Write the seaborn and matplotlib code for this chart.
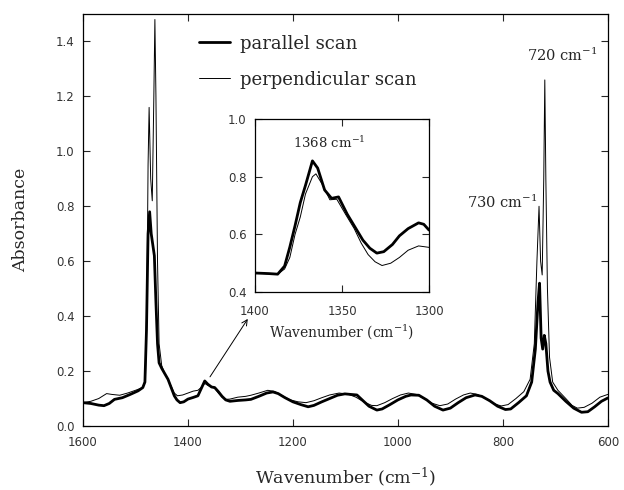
import matplotlib
matplotlib.use("Agg")
import matplotlib.pyplot as plt
import seaborn as sns
import pandas as pd

# Full-range spectra (wavenumber in cm^-1, absorbance)
wn_par = [1600, 1585, 1570, 1560, 1550, 1540, 1525, 1510, 1495, 1486, 1482, 1479,
          1476, 1473, 1470, 1467, 1464, 1461, 1458, 1455, 1450, 1444, 1438, 1432,
          1426, 1421, 1415, 1408, 1400, 1390, 1381, 1375, 1368, 1362, 1355, 1349,
          1342, 1335, 1328, 1320, 1305, 1290, 1280, 1265, 1250, 1238, 1228, 1215,
          1200, 1185, 1171, 1160, 1145, 1130, 1115, 1101, 1090, 1078, 1068, 1055,
          1040, 1030, 1015, 1000, 985, 975, 960, 945, 930, 914, 900, 885, 870, 853,
          840, 825, 810, 795, 785, 770, 755, 745, 738, 733, 730, 727, 724, 721, 718,
          714, 710, 703, 695, 680, 665, 650, 638, 625, 612, 600]
abs_par = [0.085, 0.082, 0.076, 0.074, 0.082, 0.097, 0.103, 0.115, 0.128, 0.14, 0.16, 0.35,
           0.70, 0.78, 0.70, 0.66, 0.62, 0.45, 0.30, 0.23, 0.21, 0.19, 0.17, 0.14,
           0.11, 0.095, 0.085, 0.088, 0.098, 0.104, 0.11, 0.135, 0.164, 0.152, 0.142, 0.14,
           0.125, 0.108, 0.095, 0.09, 0.093, 0.095, 0.097, 0.108, 0.12, 0.124, 0.118, 0.103,
           0.088, 0.078, 0.07, 0.075, 0.088, 0.10, 0.112, 0.117, 0.115, 0.113, 0.095, 0.072,
           0.058, 0.062, 0.078, 0.095, 0.108, 0.113, 0.112, 0.095, 0.072, 0.058, 0.065, 0.085, 0.103, 0.113,
           0.108, 0.092, 0.072, 0.06, 0.062, 0.085, 0.11, 0.16, 0.28, 0.45, 0.52, 0.32, 0.28, 0.33, 0.30,
           0.20, 0.16, 0.13, 0.118, 0.09, 0.065, 0.05, 0.052, 0.07, 0.09, 0.102]

wn_perp = [1600, 1585, 1570, 1555, 1545, 1530, 1515, 1500, 1486, 1481, 1478, 1476,
           1474, 1471, 1468, 1465, 1463, 1461, 1458, 1455, 1450, 1444, 1438, 1432,
           1426, 1420, 1410, 1400, 1390, 1381, 1375, 1368, 1362, 1355, 1349, 1342,
           1335, 1328, 1320, 1305, 1290, 1280, 1265, 1248, 1235, 1220, 1205, 1190,
           1175, 1160, 1145, 1130, 1112, 1095, 1080, 1065, 1050, 1040, 1025, 1010,
           995, 980, 965, 950, 935, 920, 905, 890, 875, 862, 848, 833, 818, 803, 790,
           775, 760, 748, 740, 735, 731, 728, 725, 722, 720, 718, 715, 711, 705, 695,
           680, 668, 658, 645, 630, 615, 600]
abs_perp = [0.085, 0.09, 0.10, 0.118, 0.115, 0.112, 0.12, 0.13, 0.14, 0.17, 0.5, 0.95,
            1.16, 0.90, 0.82, 1.20, 1.48, 1.20, 0.60, 0.30, 0.22, 0.19, 0.17, 0.145,
            0.12, 0.11, 0.113, 0.12, 0.127, 0.13, 0.14, 0.155, 0.148, 0.142, 0.137, 0.12,
            0.105, 0.097, 0.098, 0.105, 0.108, 0.112, 0.12, 0.13, 0.126, 0.11, 0.095, 0.088,
            0.085, 0.092, 0.103, 0.113, 0.12, 0.116, 0.105, 0.088, 0.075, 0.074, 0.085, 0.10,
            0.113, 0.12, 0.115, 0.10, 0.083, 0.074, 0.08, 0.098, 0.113, 0.12, 0.115, 0.10, 0.082, 0.073, 0.078,
            0.10, 0.125, 0.17, 0.30, 0.60, 0.80, 0.60, 0.55, 0.90, 1.26, 0.90, 0.50, 0.25, 0.16, 0.13,
            0.10, 0.075, 0.065, 0.068, 0.083, 0.105, 0.115]

# Expanded 1400-1300 cm^-1 region
wn_ins_par = [1400, 1392, 1387, 1383, 1380, 1377, 1374, 1371, 1367, 1364, 1360, 1356,
              1352, 1347, 1342, 1338, 1334, 1330, 1326, 1321, 1317, 1312, 1306, 1303, 1300]
abs_ins_par = [0.466, 0.464, 0.462, 0.49, 0.556, 0.63, 0.71, 0.77, 0.855, 0.83, 0.754, 0.725,
               0.73, 0.67, 0.62, 0.58, 0.552, 0.535, 0.54, 0.565, 0.595, 0.62, 0.64, 0.635, 0.615]
wn_ins_perp = [1400, 1392, 1387, 1383, 1380, 1377, 1374, 1371, 1367, 1365, 1361, 1357,
               1353, 1348, 1343, 1339, 1335, 1331, 1327, 1322, 1317, 1312, 1306, 1300]
abs_ins_perp = [0.466, 0.463, 0.462, 0.48, 0.52, 0.60, 0.66, 0.74, 0.80, 0.81, 0.77, 0.72,
                0.722, 0.67, 0.62, 0.57, 0.53, 0.505, 0.492, 0.50, 0.52, 0.545, 0.56, 0.555]

labels = ["parallel scan", "perpendicular scan"]
main_xticks = [1600, 1400, 1200, 1000, 800, 600]
main_yticks = [0.0, 0.2, 0.4, 0.6, 0.8, 1.0, 1.2, 1.4]
inset_xticks = [1400, 1350, 1300]
inset_yticks = [0.4, 0.6, 0.8, 1.0]

sns.set_style("ticks")
plt.rcParams["font.family"] = ["DejaVu Sans"]
plt.rcParams["mathtext.fontset"] = "dejavuserif"
plt.rcParams["xtick.direction"] = "in"
plt.rcParams["ytick.direction"] = "in"

SERIF = ["DejaVu Serif"]
THICK, THIN = 2.0, 0.7
TICKCOL = "#333333"

fig = plt.figure(figsize=(6.24, 4.9), dpi=100)
ax = fig.add_axes([0.133, 0.1306, 0.841, 0.8408])

df_par = pd.DataFrame({"wn": wn_par, "A": abs_par})
df_perp = pd.DataFrame({"wn": wn_perp, "A": abs_perp})
sns.lineplot(data=df_perp, x="wn", y="A", ax=ax, color="black", lw=THIN,
             estimator=None, sort=False, label=labels[1])
sns.lineplot(data=df_par, x="wn", y="A", ax=ax, color="black", lw=THICK,
             estimator=None, sort=False, label=labels[0])

ax.set_xlim(1600, 600)
ax.set_ylim(0, 1.5)
ax.set_xticks(main_xticks)
ax.set_yticks(main_yticks)
ax.set_xticklabels([str(v) for v in main_xticks])
ax.set_yticklabels([f"{v:.1f}" for v in main_yticks])
ax.tick_params(axis="both", which="major", length=5, width=0.8, labelsize=8.5,
               top=True, right=True, labelcolor=TICKCOL)
ax.tick_params(axis="x", pad=7)
ax.tick_params(axis="y", pad=6)
for s in ax.spines.values():
    s.set_linewidth(0.9)
    s.set_color("black")
ax.set_xlabel("Wavenumber (cm$^{-1}$)", family=SERIF, fontsize=12.5, labelpad=12)
ax.set_ylabel("Absorbance", family=SERIF, fontsize=12.5, labelpad=19)

handles, labs = ax.get_legend_handles_labels()
order = [labs.index(l) for l in labels]
leg = ax.legend([handles[i] for i in order], [labs[i] for i in order],
                loc="upper left", bbox_to_anchor=(0.222, 0.95), frameon=False,
                prop={"family": SERIF, "size": 13}, handlelength=1.7,
                handletextpad=0.55, labelspacing=1.0, borderpad=0, borderaxespad=0)

ax.text(754, 1.33, "720 cm$^{-1}$", family=SERIF, fontsize=10.5, ha="left", va="baseline")
ax.text(869, 0.795, "730 cm$^{-1}$", family=SERIF, fontsize=10.5, ha="left", va="baseline")
ax.annotate("", xy=(1286, 0.39), xytext=(1358, 0.179),
            arrowprops=dict(arrowstyle="->", lw=0.7, color="black",
                            shrinkA=0, shrinkB=0, mutation_scale=10))

# Inset with the expanded 1368 cm^-1 band
ins = fig.add_axes([0.4087, 0.404, 0.2788, 0.353])
df_ip = pd.DataFrame({"wn": wn_ins_par, "A": abs_ins_par})
df_iq = pd.DataFrame({"wn": wn_ins_perp, "A": abs_ins_perp})
sns.lineplot(data=df_iq, x="wn", y="A", ax=ins, color="black", lw=THIN,
             estimator=None, sort=False)
sns.lineplot(data=df_ip, x="wn", y="A", ax=ins, color="black", lw=THICK,
             estimator=None, sort=False)
ins.set_xlim(1400, 1300)
ins.set_ylim(0.4, 1.0)
ins.set_xticks(inset_xticks)
ins.set_yticks(inset_yticks)
ins.set_xticklabels([str(v) for v in inset_xticks])
ins.set_yticklabels([f"{v:.1f}" for v in inset_yticks])
ins.tick_params(axis="both", length=5, width=0.8, labelsize=8.5, top=True, right=True,
                labelcolor=TICKCOL)
ins.tick_params(axis="x", pad=9)
ins.tick_params(axis="y", pad=6)
for s in ins.spines.values():
    s.set_linewidth(0.9)
    s.set_color("black")
ins.set_xlabel("Wavenumber (cm$^{-1}$)", family=SERIF, fontsize=10, labelpad=3)
ins.set_ylabel("")
ins.text(1378, 0.9, "1368 cm$^{-1}$", family=SERIF, fontsize=9.5, ha="left", va="baseline")

fig.savefig("out.png", dpi=100)
